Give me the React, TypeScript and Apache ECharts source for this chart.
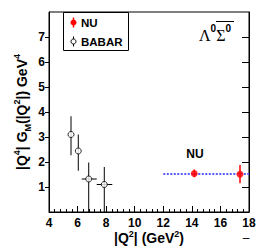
import React, { useEffect, useRef } from "react";
import * as echarts from "echarts";

// BABAR data
const babarX = [5.54, 6.05, 6.78, 7.87];
const babarY = [3.1, 2.44, 1.32, 1.1];
const babarXLo = [5.54, 6.05, 6.29, 7.34];
const babarXHi = [5.54, 6.05, 7.34, 8.43];
const babarYLo = [2.27, 1.65, 0, 0];
const babarYHi = [3.83, 3.1, 1.98, 1.8];

// NU data
const nuX = [14.17, 17.37];
const nuY = [1.54, 1.51];
const nuYLo = [1.39, 1.15];
const nuYHi = [1.7, 1.88];

// fit line
const fitX = [12, 18];
const fitY = [1.52, 1.52];

const xTicks = [4, 6, 8, 10, 12, 14, 16, 18];
const yTicks = [1, 2, 3, 4, 5, 6, 7];

const FONT = "Liberation Sans, Arial, Helvetica, sans-serif";

function errRender(color: string, lw: number) {
  return (params: any, api: any) => {
    const x = api.value(0), y = api.value(1);
    const xl = api.value(2), xh = api.value(3), yl = api.value(4), yh = api.value(5);
    const c = api.coord([x, y]);
    const pyl = api.coord([x, yl]);
    const pyh = api.coord([x, yh]);
    const pxl = api.coord([xl, y]);
    const pxh = api.coord([xh, y]);
    const style = { stroke: color, lineWidth: lw };
    const children: any[] = [
      { type: "line", shape: { x1: c[0], y1: pyl[1], x2: c[0], y2: pyh[1] }, style },
    ];
    if (xh > xl) {
      children.push({ type: "line", shape: { x1: pxl[0], y1: c[1], x2: pxh[0], y2: c[1] }, style });
    }
    return { type: "group", children };
  };
}

export default function App() {
  const ref = useRef<HTMLDivElement>(null);
  useEffect(() => {
    if (!ref.current) return;
    const chart = echarts.init(ref.current, null, { renderer: "svg" });
    const babarErr = babarX.map((x, i) => [x, babarY[i], babarXLo[i], babarXHi[i], babarYLo[i], babarYHi[i]]);
    const nuErr = nuX.map((x, i) => [x, nuY[i], x, x, nuYLo[i], nuYHi[i]]);
    const option: any = {
      animation: false,
      backgroundColor: "#fff",
      grid: { left: 49, right: 14, top: 12, bottom: 39, show: true, borderColor: "#000", borderWidth: 1, backgroundColor: "transparent" },
      xAxis: {
        type: "value", min: 4, max: 18, interval: 2,
        axisLine: { show: true, lineStyle: { color: "#000", width: 1 } },
        axisTick: { show: true, inside: true, length: 6, lineStyle: { color: "#000" }, customValues: xTicks },
        minorTick: { show: true, splitNumber: 5, length: 3, lineStyle: { color: "#000" } },
        splitLine: { show: false },
        axisLabel: { color: "#000", fontSize: 12, fontWeight: "bold", fontFamily: FONT, margin: 5, customValues: xTicks },
      },
      yAxis: [
        {
          type: "value", min: 0, max: 8, interval: 1, position: "left",
          axisLine: { show: true, lineStyle: { color: "#000", width: 1 } },
          axisTick: { show: true, inside: false, length: 4, lineStyle: { color: "#000" }, customValues: yTicks },
          splitLine: { show: false },
          axisLabel: { color: "#000", fontSize: 12, fontWeight: "bold", fontFamily: FONT, margin: 4, customValues: yTicks },
        },
        {
          type: "value", min: 0, max: 8, interval: 1, position: "right",
          axisLine: { show: true, lineStyle: { color: "#000", width: 1 } },
          axisTick: { show: true, inside: true, length: 7, lineStyle: { color: "#000" }, customValues: yTicks },
          splitLine: { show: false },
          axisLabel: { show: false },
        },
      ],
      series: [
        {
          type: "line", data: fitX.map((x, i) => [x, fitY[i]]), symbol: "none",
          lineStyle: { color: "#5a5aff", width: 2, type: [2, 1.5] }, z: 1,
        },
        { type: "custom", data: babarErr, renderItem: errRender("#000", 1), clip: true, z: 2 },
        { type: "custom", data: nuErr, renderItem: errRender("#ff0000", 1.5), clip: true, z: 2 },
        {
          type: "scatter", data: babarX.map((x, i) => [x, babarY[i]]), symbol: "circle", symbolSize: 6,
          itemStyle: { color: "#fff", borderColor: "#000", borderWidth: 1 }, z: 3,
        },
        {
          type: "scatter", data: nuX.map((x, i) => [x, nuY[i]]), symbol: "circle", symbolSize: 7,
          itemStyle: { color: "#ff0000" }, z: 3,
        },
      ],
      graphic: [
        // legend
        { type: "rect", shape: { x: 63.5, y: 12.5, width: 65, height: 38 }, style: { fill: "#fff", stroke: "#000", lineWidth: 1 }, z: 10 },
        { type: "line", shape: { x1: 73.5, y1: 17.5, x2: 73.5, y2: 27.5 }, style: { stroke: "#ff0000", lineWidth: 1.5 }, z: 11 },
        { type: "circle", shape: { cx: 73.5, cy: 22.5, r: 3 }, style: { fill: "#ff0000" }, z: 11 },
        { type: "text", x: 81, y: 22.5, style: { text: "NU", fontSize: 11.5, fontWeight: "bold", fontFamily: FONT, fill: "#000", verticalAlign: "middle" }, z: 11 },
        { type: "line", shape: { x1: 73.5, y1: 36.5, x2: 73.5, y2: 46.5 }, style: { stroke: "#000", lineWidth: 1 }, z: 11 },
        { type: "circle", shape: { cx: 73.5, cy: 41.5, r: 2.5 }, style: { fill: "#fff", stroke: "#000", lineWidth: 1 }, z: 11 },
        { type: "text", x: 81, y: 41.5, style: { text: "BABAR", fontSize: 11.5, fontWeight: "bold", fontFamily: FONT, fill: "#000", verticalAlign: "middle" }, z: 11 },
        // particle label
        {
          type: "text", x: 199, y: 33,
          style: {
            text: "{L|Λ}{s|0}{L|Σ}{s|0}", verticalAlign: "middle", fill: "#000",
            rich: {
              L: { fontFamily: "Liberation Serif, Times New Roman, serif", fontSize: 16, lineHeight: 20, verticalAlign: "bottom" },
              s: { fontFamily: FONT, fontSize: 10, fontWeight: "bold", lineHeight: 20, verticalAlign: "top" },
            },
          }, z: 11,
        },
        { type: "line", shape: { x1: 216, y1: 21.5, x2: 234, y2: 21.5 }, style: { stroke: "#000", lineWidth: 1 }, z: 11 },
        // NU label
        { type: "text", x: 195, y: 154, style: { text: "NU", fontSize: 12, fontWeight: "bold", fontFamily: FONT, fill: "#000", align: "center", verticalAlign: "middle" }, z: 11 },
        // x title
        {
          type: "text", x: 149, y: 238,
          style: {
            text: "|Q{sup|2}| (GeV{sup|2})", fontSize: 14, fontWeight: "bold", fontFamily: FONT, fill: "#000", align: "center", verticalAlign: "middle", lineHeight: 18,
            rich: { sup: { fontSize: 9, fontWeight: "bold", fontFamily: FONT, verticalAlign: "top", lineHeight: 18 } },
          }, z: 11,
        },
        { type: "text", x: 246, y: 238, style: { text: "–", fontSize: 12, fontFamily: FONT, fill: "#000", align: "center", verticalAlign: "middle" }, z: 11 },
        // y title
        {
          type: "text", x: 22, y: 112, rotation: Math.PI / 2,
          style: {
            text: "|Q{sup|4}| G{sub|M}(|Q{sup|2}|) GeV{sup|4}", fontSize: 14, fontWeight: "bold", fontFamily: FONT, fill: "#000", align: "center", verticalAlign: "middle", lineHeight: 20,
            rich: {
              sup: { fontSize: 9, fontWeight: "bold", fontFamily: FONT, verticalAlign: "top", lineHeight: 20 },
              sub: { fontSize: 9, fontWeight: "bold", fontFamily: FONT, verticalAlign: "bottom", lineHeight: 20 },
            },
          }, z: 11,
        },
      ],
    };
    chart.setOption(option);
    return () => chart.dispose();
  }, []);
  return <div ref={ref} style={{ position: "fixed", left: 0, top: 0, width: 263, height: 251 }} />;
}
